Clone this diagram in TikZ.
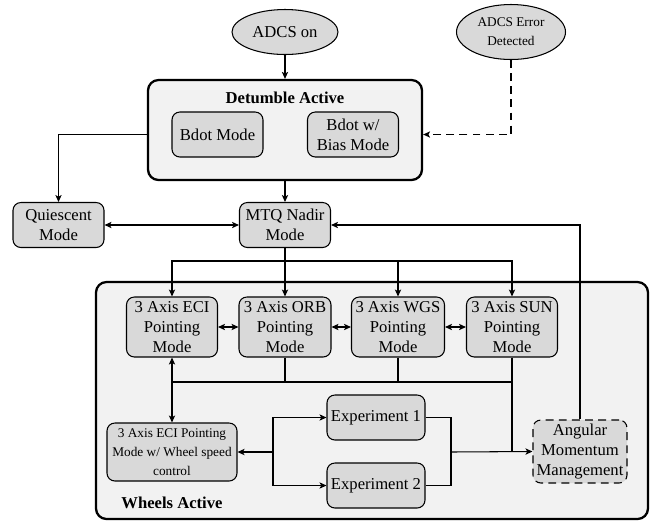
\documentclass[tikz,border=0pt]{standalone}
\usepackage{fontspec}
\setmainfont{Liberation Serif}
\usetikzlibrary{arrows.meta,shapes.geometric}
\definecolor{nodegray}{RGB}{217,217,217}
\definecolor{boxgray}{RGB}{242,242,242}
\newcommand{\myfn}{\fontsize{9.5}{11.4}\selectfont}
\newcommand{\mysm}{\fontsize{7.6}{10.8}\selectfont}
\newcommand{\mybf}{\fontsize{9.5}{11.4}\selectfont\bfseries}
\tikzset{
  mode/.style={draw, fill=nodegray, rounded corners=4.5pt, align=center, inner sep=0pt, line width=0.6pt, font=\myfn},
  oval/.style={draw, fill=nodegray, ellipse, align=center, inner sep=0pt, line width=0.6pt, font=\myfn},
  container/.style={draw, fill=boxgray, rounded corners=6pt, line width=1.3pt, inner sep=0pt},
  conn/.style={line width=0.6pt, -{Stealth[length=4pt,width=3.6pt,inset=1pt]}},
  dconn/.style={line width=0.6pt, {Stealth[length=4pt,width=3.6pt,inset=1pt]}-{Stealth[length=4pt,width=3.6pt,inset=1pt]}},
  plain/.style={line width=0.6pt},
  lbl/.style={font=\mybf, inner sep=0pt}
}
\begin{document}
\begin{tikzpicture}[x=0.5714pt, y=-0.5714pt]
\useasboundingbox (0,0) rectangle (652,521);
% containers
\node[container, minimum width={274*0.5714pt}, minimum height={100*0.5714pt}] (det) at (285,130) {};
\node[container, minimum width={552*0.5714pt}, minimum height={237*0.5714pt}] (wheels) at (372,400.5) {};
\node[lbl] (detlbl) at (285,98) {Detumble Active};
\node[lbl] (wlbl) at (172,503) {Wheels Active};
% ellipses
\node[oval, minimum width={106*0.5714pt}, minimum height={45*0.5714pt}] (adcs) at (285,32) {ADCS on};
\node[oval, font=\mysm, minimum width={109*0.5714pt}, minimum height={55*0.5714pt}] (err) at (511,32) {ADCS Error\\Detected};
% detumble modes
\node[mode, minimum width={91*0.5714pt}, minimum height={45*0.5714pt}] (bdot) at (217.5,134.5) {Bdot Mode};
\node[mode, minimum width={91*0.5714pt}, minimum height={45*0.5714pt}] (bias) at (353,134.5) {Bdot w/\\Bias Mode};
% middle row
\node[mode, minimum width={91*0.5714pt}, minimum height={45*0.5714pt}] (qui) at (58.5,225) {Quiescent\\Mode};
\node[mode, minimum width={91*0.5714pt}, minimum height={45*0.5714pt}] (mtq) at (285,225) {MTQ Nadir\\Mode};
% pointing modes
\node[mode, minimum width={91*0.5714pt}, minimum height={60*0.5714pt}] (eci) at (172,327) {3 Axis ECI\\Pointing\\Mode};
\node[mode, minimum width={92*0.5714pt}, minimum height={60*0.5714pt}] (orb) at (285,327) {3 Axis ORB\\Pointing\\Mode};
\node[mode, minimum width={93*0.5714pt}, minimum height={60*0.5714pt}] (wgs) at (398,327) {3 Axis WGS\\Pointing\\Mode};
\node[mode, minimum width={91*0.5714pt}, minimum height={60*0.5714pt}] (sun) at (512,327) {3 Axis SUN\\Pointing\\Mode};
% wheels row
\node[mode, font=\mysm, minimum width={130*0.5714pt}, minimum height={58*0.5714pt}] (weci) at (172,452) {3 Axis ECI Pointing\\Mode w/ Wheel speed\\control};
\node[mode, minimum width={98*0.5714pt}, minimum height={45*0.5714pt}] (exp1) at (376,417.5) {Experiment 1};
\node[mode, minimum width={98*0.5714pt}, minimum height={45*0.5714pt}] (exp2) at (376,485.5) {Experiment 2};
\node[mode, dashed, dash pattern=on 4.5pt off 3pt, minimum width={94*0.5714pt}, minimum height={63*0.5714pt}] (am) at (580,451.5) {Angular\\Momentum\\Management};
% coordinates
\coordinate (split) at (285,261);
\coordinate (bus) at (172,382);
\coordinate (jl) at (273,452);
\coordinate (jr) at (451,452);
% connectors
\draw[conn] (adcs.south) -- (det.north);
\draw[conn, dashed, dash pattern=on 4.5pt off 3pt] (err.south) |- (det.east |- bias.center);
\draw[conn] (det.west |- bdot.center) -| (qui.north);
\draw[conn] (det.south) -- (mtq.north);
\draw[dconn] (qui.east) -- (mtq.west);
\draw[plain] (mtq.south) -- (split);
\draw[conn] (split) -| (eci.north);
\draw[conn] (split) -- (orb.north);
\draw[conn] (split) -| (wgs.north);
\draw[conn] (split) -| (sun.north);
\draw[dconn] (eci.east) -- (orb.west);
\draw[dconn] (orb.east) -- (wgs.west);
\draw[dconn] (wgs.east) -- (sun.west);
\draw[dconn] (eci.south) -- (weci.north);
\draw[plain] (orb.south) |- (bus);
\draw[plain] (wgs.south) |- (bus);
\draw[plain] (sun.south) |- (bus);
\draw[plain] (sun.south) -- (sun.south |- jr);
\draw[conn, line width=1pt] (jl) -- (weci.east);
\draw[conn] (jl) |- (exp1.west);
\draw[conn] (jl) |- (exp2.west);
\draw[plain] (exp1.east) -| (jr);
\draw[plain] (exp2.east) -| (jr);
\draw[conn] (jr) -- (am.west);
\draw[conn] (am.north) |- (mtq.east);
\end{tikzpicture}
\end{document}
